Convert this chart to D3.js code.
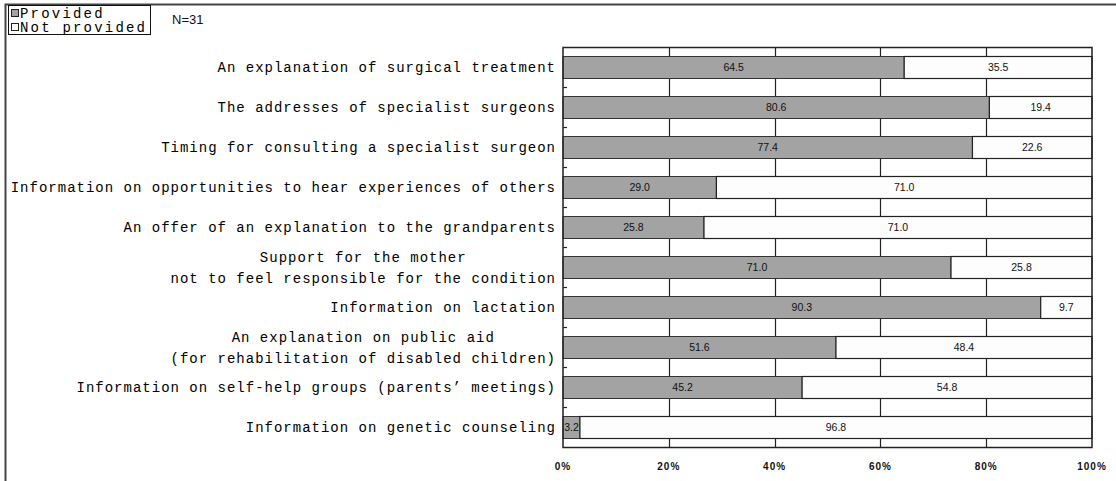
<!DOCTYPE html>
<html><head><meta charset="utf-8">
<script src="https://cdn.jsdelivr.net/npm/d3@7/dist/d3.min.js"></script>
<style>
html,body{margin:0;padding:0;background:#fff;}
svg{display:block;}
.cat{font-family:"Liberation Mono",monospace;font-size:14px;letter-spacing:1px;fill:#000;}
.val{font-family:"Liberation Sans",Arial,sans-serif;font-size:10.5px;fill:#111;}
.tick{font-family:"Liberation Sans",Arial,sans-serif;font-size:10px;font-weight:bold;letter-spacing:1px;fill:#111;}
.leg{font-family:"Liberation Mono",monospace;font-size:14px;letter-spacing:2.2px;fill:#000;}
</style></head>
<body>
<svg id="c" width="1116" height="481"></svg>
<script>
const categories = [
  ["An explanation of surgical treatment"],
  ["The addresses of specialist surgeons"],
  ["Timing for consulting a specialist surgeon"],
  ["Information on opportunities to hear experiences of others"],
  ["An offer of an explanation to the grandparents"],
  ["Support for the mother","not to feel responsible for the condition"],
  ["Information on lactation"],
  ["An explanation on public aid","(for rehabilitation of disabled children)"],
  ["Information on self-help groups (parents\u2019 meetings)"],
  ["Information on genetic counseling"]
];
const provided    = [64.5, 80.6, 77.4, 29.0, 25.8, 71.0, 90.3, 51.6, 45.2, 3.2];
const notProvided = [35.5, 19.4, 22.6, 71.0, 71.0, 25.8, 9.7, 48.4, 54.8, 96.8];
const seriesNames = ["Provided", "Not provided"];
const tickValues  = [0, 20, 40, 60, 80, 100];
const tickLabels  = ["0%", "20%", "40%", "60%", "80%", "100%"];
const note = "N=31";

(function(){
const svg = d3.select("#c");
const pL = 563, pR = 1092, pT = 47.5, pB = 447.5;
const idx = categories.map((d,i)=>i);
const x = d3.scaleLinear().domain([0,100]).range([pL,pR]);
const y = d3.scaleBand().domain(idx).range([pT,pB]).paddingInner(0.45).paddingOuter(0.225);
const step = y.step();

svg.append("rect").attr("x",5.5).attr("y",4.5).attr("width",1200).attr("height",600)
  .attr("fill","none").attr("stroke","#444").attr("stroke-width",2);

svg.append("rect").attr("x",pL).attr("y",pT).attr("width",pR-pL).attr("height",pB-pT)
  .attr("fill","#fff");

svg.append("g").selectAll("line").data(tickValues.slice(1,-1)).join("line")
  .attr("x1",d=>Math.round(x(d))+0.5).attr("x2",d=>Math.round(x(d))+0.5)
  .attr("y1",pT).attr("y2",pB).attr("stroke","#222").attr("stroke-width",1.2);

const rows = idx.map(i=>{
  const tot = provided[i]+notProvided[i];
  return {i, p:provided[i], n:notProvided[i], pp:provided[i]/tot*100};
});
const g = svg.append("g");
g.selectAll("rect.p").data(rows).join("rect").attr("class","p")
  .attr("x",x(0)).attr("y",d=>y(d.i)).attr("width",d=>x(d.pp)-x(0)).attr("height",y.bandwidth())
  .attr("fill","#a3a3a3").attr("stroke","#333").attr("stroke-width",1);
g.selectAll("rect.n").data(rows).join("rect").attr("class","n")
  .attr("x",d=>x(d.pp)).attr("y",d=>y(d.i)).attr("width",d=>x(100)-x(d.pp)).attr("height",y.bandwidth())
  .attr("fill","#fdfdfd").attr("stroke","#222").attr("stroke-width",1.2);
g.selectAll("text.vp").data(rows).join("text").attr("class","val")
  .attr("x",d=>(x(0)+x(d.pp))/2).attr("y",d=>y(d.i)+y.bandwidth()/2).attr("dy","0.35em")
  .attr("text-anchor","middle").text(d=>d.p.toFixed(1));
g.selectAll("text.vn").data(rows).join("text").attr("class","val")
  .attr("x",d=>(x(d.pp)+x(100))/2).attr("y",d=>y(d.i)+y.bandwidth()/2).attr("dy","0.35em")
  .attr("text-anchor","middle").text(d=>d.n.toFixed(1));

svg.append("rect").attr("x",pL).attr("y",pT).attr("width",pR-pL).attr("height",pB-pT)
  .attr("fill","none").attr("stroke","#222").attr("stroke-width",1.5);

svg.append("g").selectAll("line").data(idx.slice(1)).join("line")
  .attr("x1",pL).attr("x2",pL+4)
  .attr("y1",d=>y(d)-(step-y.bandwidth())/2).attr("y2",d=>y(d)-(step-y.bandwidth())/2)
  .attr("stroke","#222").attr("stroke-width",1.2);

svg.append("g").selectAll("text").data(tickValues).join("text").attr("class","tick")
  .attr("x",d=>x(d)).attr("y",470).attr("text-anchor","middle").text((d,i)=>tickLabels[i]);

const labelRight = 556;
idx.forEach(i=>{
  const lines = categories[i];
  const cy = y(i)+y.bandwidth()/2;
  const lh = 21;
  const grp = svg.append("g");
  const ts = lines.map((ln,k)=>grp.append("text").attr("class","cat")
    .attr("y", cy + (k-(lines.length-1)/2)*lh).attr("dy","0.35em").text(ln));
  const widths = ts.map(t=>t.node().getComputedTextLength());
  const maxW = d3.max(widths);
  const center = labelRight - maxW/2;
  ts.forEach(t=>t.attr("x",center).attr("text-anchor","middle"));
});

const lg = svg.append("g");
lg.append("rect").attr("x",8.5).attr("y",5.5).attr("width",142).attr("height",29)
  .attr("fill","#fff").attr("stroke","#111").attr("stroke-width",1);
const legFill = ["#a3a3a3","#fdfdfd"];
seriesNames.forEach((s,k)=>{
  const yy = 13 + k*14;
  lg.append("rect").attr("x",11.5).attr("y",yy-3.5).attr("width",7).attr("height",7)
    .attr("fill",legFill[k]).attr("stroke","#222").attr("stroke-width",1);
  lg.append("text").attr("class","leg").attr("x",20).attr("y",yy).attr("dy","0.35em").text(s);
});
svg.append("text").attr("x",172).attr("y",19).attr("dy","0.35em")
  .style("font-family","Liberation Sans, Arial, sans-serif").style("font-size","13px").style("fill","#111")
  .text(note);
})();
</script>
</body></html>
